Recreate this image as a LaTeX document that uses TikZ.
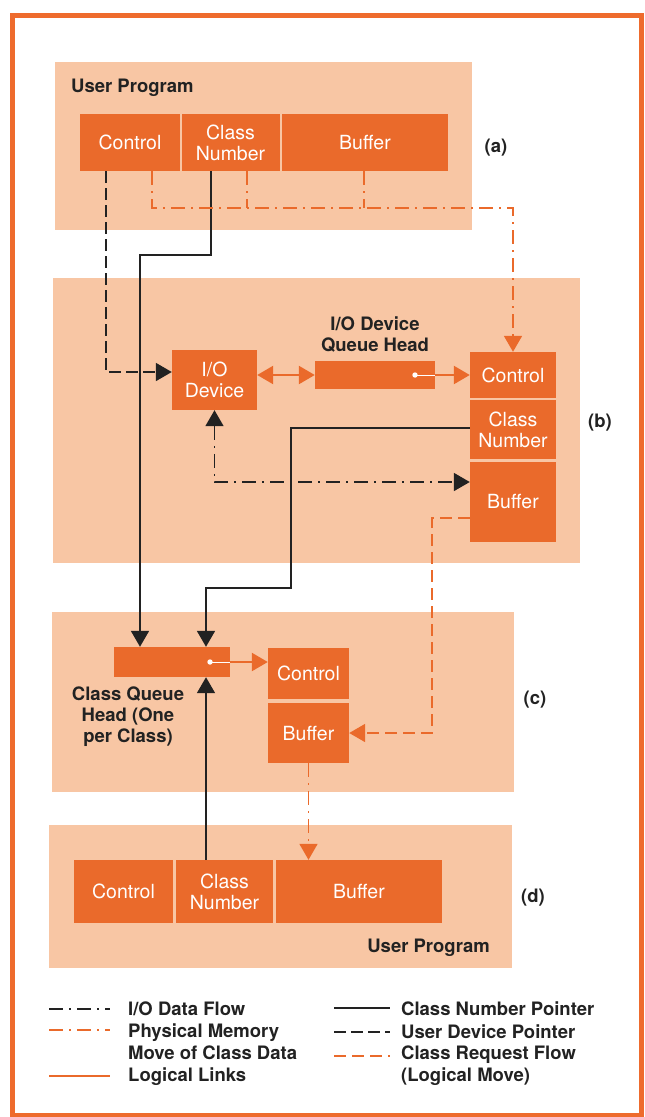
\documentclass[tikz,border=0pt]{standalone}
\usepackage{fontspec}
\setmainfont{TeX Gyre Heros}
\usetikzlibrary{arrows.meta}
\definecolor{frameor}{HTML}{EE6B2D}
\definecolor{boxor}{HTML}{EA6A2B}
\definecolor{peach}{HTML}{F8C6A4}
\definecolor{ink}{HTML}{222222}
\begin{document}
\begin{tikzpicture}[x = 1pt, y = -1pt,
                    >={Triangle[length = 16pt, width = 18pt]},
                    box/.style = {shape = rectangle,
                                  fill = boxor,
                                  text = white,
                                  inner sep = 0pt,
                                  align = center,
                                  font = \fontsize{19.5}{21}\selectfont},
                    lbl/.style = {text = ink,
                                  inner sep = 0pt,
                                  align = center,
                                  font = \fontsize{18.5}{21}\selectfont\bfseries},
                    key/.style = {lbl,
                                  anchor = west,
                                  align = left,
                                  font = \fontsize{18.5}{22}\selectfont\bfseries},
                    cnp/.style = {draw = ink, line width = 1.8pt},
                    udp/.style = {cnp, dash pattern = on 12pt off 5pt},
                    iodf/.style = {cnp, dash pattern = on 14pt off 6pt on 2pt off 6pt},
                    lnk/.style = {draw = boxor, line width = 2.4pt},
                    pmm/.style = {draw = boxor, line width = 1.8pt,
                                  dash pattern = on 14pt off 6pt on 2pt off 6pt},
                    crf/.style = {draw = boxor, line width = 1.8pt,
                                  dash pattern = on 12pt off 6pt}]
	\useasboundingbox (0,0) rectangle (645,1117);
	\fill[white] (0,0) rectangle (645,1117);
	\draw[draw = frameor, line width = 5pt] (12,15.5) rectangle (641,1115.5);
	% panels
	\fill[peach] (55,62) rectangle (472,230);
	\fill[peach] (53,278) rectangle (580,563);
	\fill[peach] (52,612) rectangle (514,792);
	\fill[peach] (49,825) rectangle (512,968);
	% (a) user program
	\node[lbl, anchor = west] (aup) at (71,88) {User Program};
	\node[box, minimum width = 100pt, minimum height = 57pt] (actl) at (130,142.5) {Control};
	\node[box, minimum width = 98pt, minimum height = 57pt] (acls) at (230.5,142.5) {Class\\Number};
	\node[box, minimum width = 166pt, minimum height = 57pt] (abuf) at (365,142.5) {Buffer};
	\node[lbl] (alab) at (496,148) {(a)};
	% (b) i/o device
	\node[box, minimum width = 85pt, minimum height = 60pt] (iodev) at (214.5,380) {I/O\\Device};
	\node[box, minimum width = 120pt, minimum height = 28pt] (qhead) at (375,375) {};
	\node[lbl] (qlab) at (375,334.5) {I/O Device\\Queue Head};
	\node[box, minimum width = 86pt, minimum height = 46pt] (bctl) at (513,375) {Control};
	\node[box, minimum width = 86pt, minimum height = 59pt] (bcls) at (513,429.5) {Class\\Number};
	\node[box, minimum width = 86pt, minimum height = 80pt] (bbuf) at (513,502) {Buffer};
	\node[lbl] (blab) at (600,423) {(b)};
	% (c) class queue
	\node[box, minimum width = 116pt, minimum height = 30pt] (cqhead) at (172,662) {};
	\node[lbl] (cqlab) at (128,717) {Class Queue\\Head (One\\per Class)};
	\node[box, minimum width = 81pt, minimum height = 51pt] (cctl) at (308.5,673.5) {Control};
	\node[box, minimum width = 81pt, minimum height = 60pt] (cbuf) at (308.5,733) {Buffer};
	\node[lbl] (clab) at (535,700) {(c)};
	% (d) user program
	\node[box, minimum width = 99pt, minimum height = 63pt] (dctl) at (123.5,891.5) {Control};
	\node[box, minimum width = 97pt, minimum height = 63pt] (dcls) at (224.5,891.5) {Class\\Number};
	\node[box, minimum width = 166pt, minimum height = 63pt] (dbuf) at (359,891.5) {Buffer};
	\node[lbl] (dlab) at (533,898) {(d)};
	\node[lbl, anchor = east] (dup) at (490,948) {User Program};
	% queue head pointers
	\coordinate (qdot) at (415,375);
	\coordinate (cqdot) at (210,662);
	\draw[white, line width = 1pt] (qdot) -- (qhead.east);
	\fill[white] (qdot) circle[radius = 2.7pt];
	\draw[white, line width = 1pt] (cqdot) -- (cqhead.east);
	\fill[white] (cqdot) circle[radius = 2.7pt];
	% user device pointer
	\draw[udp, ->] (actl.south -| 106,0) |- (iodev.west |- 0,372);
	% class number pointers
	\draw[cnp, ->] (acls.south -| 211,0) |- (140,255) -- (cqhead.north -| 140,0);
	\draw[cnp, ->] (bcls.west |- 0,428) -| (291,588) -| (cqhead.north -| 206,0);
	\draw[cnp, ->] (dcls.north -| 206,0) -- (cqhead.south -| 206,0);
	% i/o data flow
	\draw[iodf, <->] (iodev.south) |- (bbuf.west |- 0,482);
	% logical links
	\draw[lnk, <->] (iodev.east |- qhead.west) -- (qhead.west);
	\draw[lnk, ->] (qhead.east) -- (bctl.west);
	\draw[lnk, ->] (cqhead.east) -- (cctl.west |- cqhead.east);
	% physical memory move
	\draw[pmm, ->] (actl.south -| 152,0) |- (bctl.north |- 0,208) -- (bctl.north);
	\draw[pmm] (acls.south -| 247,0) -- (247,208);
	\draw[pmm] (abuf.south -| 364,0) -- (364,208);
	\draw[pmm, ->] (cbuf.south) -- (cbuf.south |- dbuf.north);
	% class request flow
	\draw[crf, ->] (bbuf.west |- 0,518) -| (432,733) -- (cbuf.east);
	% legend
	\node[key] (kiodf) at (128,1009) {I/O Data Flow};
	\node[key] (kpmm) at (128,1042) {Physical Memory\\Move of Class Data};
	\node[key] (klnk) at (128,1077) {Logical Links};
	\node[key] (kcnp) at (401,1009) {Class Number Pointer};
	\node[key] (kudp) at (401,1032) {User Device Pointer};
	\node[key] (kcrf) at (401,1066) {Class Request Flow\\(Logical Move)};
	\draw[iodf] (49,1009) -- (110,1009);
	\draw[pmm] (49,1030) -- (110,1030);
	\draw[lnk, line width = 1.8pt] (49,1076) -- (110,1076);
	\draw[cnp] (334,1008) -- (390,1008);
	\draw[udp] (334,1032) -- (390,1032);
	\draw[crf] (334,1056) -- (390,1056);
\end{tikzpicture}
\end{document}
